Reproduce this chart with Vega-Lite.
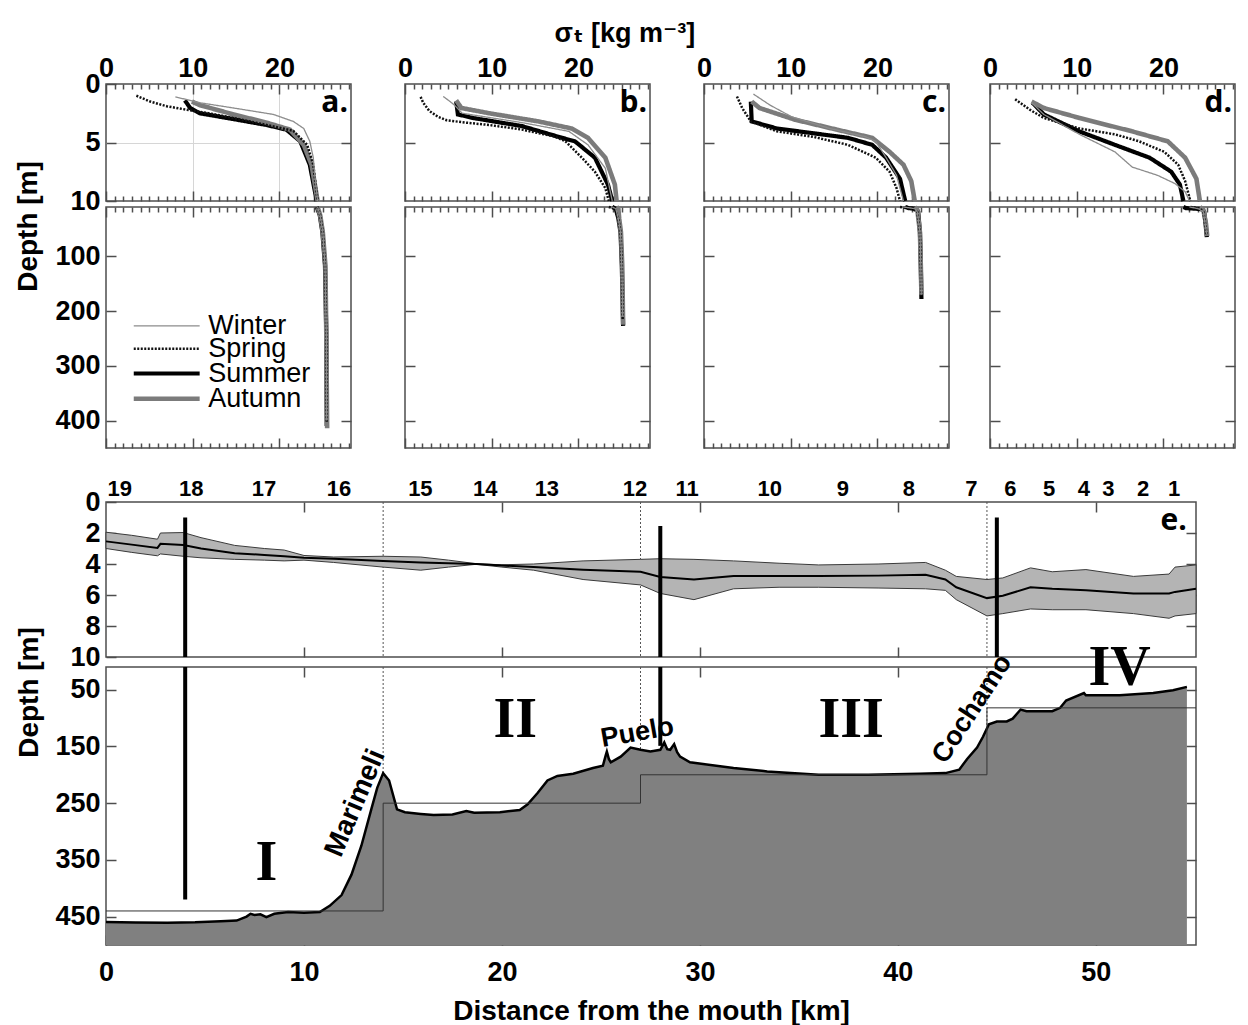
{
  "$schema": "https://vega.github.io/schema/vega-lite/v6.json",
  "padding": {"left": 13, "top": 20, "right": 5, "bottom": 0},
  "background": "white",
  "config": {
    "font": "Liberation Sans",
    "view": {"stroke": "#4d4d4d", "strokeWidth": 1.5},
    "axis": {"domain": false, "grid": false, "tickColor": "#4d4d4d", "tickWidth": 1.5, "labelFont": "Liberation Sans", "labelFontSize": 27, "labelFontWeight": "bold", "labelColor": "#000000", "titleFont": "Liberation Sans", "titleFontSize": 28, "titleFontWeight": "bold", "titleColor": "#000000", "labelFlush": false, "labelOverlap": false},
    "title": {"font": "Liberation Sans, DejaVu Sans", "fontSize": 27, "fontWeight": "bold", "color": "#000000"}
  },
  "datasets": {
    "prof": [
      {"st":"a","season":"Summer","depth":1.4,"sigma":9.1},{"st":"a","season":"Summer","depth":2.05,"sigma":9.7},{"st":"a","season":"Summer","depth":2.5,"sigma":10.8},{"st":"a","season":"Summer","depth":3.0,"sigma":14.7},{"st":"a","season":"Summer","depth":3.5,"sigma":18.5},{"st":"a","season":"Summer","depth":3.9,"sigma":20.8},{"st":"a","season":"Summer","depth":4.9,"sigma":22.4},{"st":"a","season":"Summer","depth":6.9,"sigma":23.5},{"st":"a","season":"Summer","depth":10,"sigma":24.3},{"st":"a","season":"Summer","depth":25,"sigma":24.65},{"st":"a","season":"Summer","depth":56,"sigma":24.95},{"st":"a","season":"Summer","depth":117,"sigma":25.25},{"st":"a","season":"Summer","depth":240,"sigma":25.4},{"st":"a","season":"Summer","depth":410,"sigma":25.45},
      {"st":"a","season":"Autumn","depth":1.5,"sigma":9.9},{"st":"a","season":"Autumn","depth":1.8,"sigma":10.8},{"st":"a","season":"Autumn","depth":2.6,"sigma":14.7},{"st":"a","season":"Autumn","depth":3.3,"sigma":18.5},{"st":"a","season":"Autumn","depth":3.9,"sigma":21.2},{"st":"a","season":"Autumn","depth":5.2,"sigma":22.8},{"st":"a","season":"Autumn","depth":6.9,"sigma":23.7},{"st":"a","season":"Autumn","depth":10,"sigma":24.4},{"st":"a","season":"Autumn","depth":25,"sigma":24.7},{"st":"a","season":"Autumn","depth":56,"sigma":25.0},{"st":"a","season":"Autumn","depth":117,"sigma":25.3},{"st":"a","season":"Autumn","depth":240,"sigma":25.4},{"st":"a","season":"Autumn","depth":414,"sigma":25.5},
      {"st":"a","season":"Spring","depth":1.0,"sigma":3.5},{"st":"a","season":"Spring","depth":1.5,"sigma":5.1},{"st":"a","season":"Spring","depth":1.9,"sigma":7.0},{"st":"a","season":"Spring","depth":2.2,"sigma":9.3},{"st":"a","season":"Spring","depth":2.45,"sigma":11.5},{"st":"a","season":"Spring","depth":2.9,"sigma":14.7},{"st":"a","season":"Spring","depth":3.5,"sigma":18.5},{"st":"a","season":"Spring","depth":4.0,"sigma":21.6},{"st":"a","season":"Spring","depth":5.2,"sigma":23.2},{"st":"a","season":"Spring","depth":6.9,"sigma":23.9},{"st":"a","season":"Spring","depth":10,"sigma":24.4},{"st":"a","season":"Spring","depth":25,"sigma":24.7},{"st":"a","season":"Spring","depth":56,"sigma":25.0},{"st":"a","season":"Spring","depth":117,"sigma":25.25},{"st":"a","season":"Spring","depth":240,"sigma":25.4},{"st":"a","season":"Spring","depth":405,"sigma":25.45},
      {"st":"a","season":"Winter","depth":1.1,"sigma":8.0},{"st":"a","season":"Winter","depth":1.6,"sigma":10.8},{"st":"a","season":"Winter","depth":2.05,"sigma":14.7},{"st":"a","season":"Winter","depth":2.6,"sigma":19.3},{"st":"a","season":"Winter","depth":3.2,"sigma":21.6},{"st":"a","season":"Winter","depth":3.8,"sigma":22.8},{"st":"a","season":"Winter","depth":4.9,"sigma":23.5},{"st":"a","season":"Winter","depth":6.3,"sigma":23.9},{"st":"a","season":"Winter","depth":8.0,"sigma":24.1},{"st":"a","season":"Winter","depth":10,"sigma":24.4},{"st":"a","season":"Winter","depth":25,"sigma":24.7},{"st":"a","season":"Winter","depth":56,"sigma":25.0},{"st":"a","season":"Winter","depth":117,"sigma":25.25},{"st":"a","season":"Winter","depth":240,"sigma":25.4},{"st":"a","season":"Winter","depth":400,"sigma":25.45},
      {"st":"b","season":"Summer","depth":1.5,"sigma":5.9},{"st":"b","season":"Summer","depth":2.6,"sigma":6.1},{"st":"b","season":"Summer","depth":2.9,"sigma":7.8},{"st":"b","season":"Summer","depth":3.6,"sigma":13.5},{"st":"b","season":"Summer","depth":4.6,"sigma":18.1},{"st":"b","season":"Summer","depth":4.9,"sigma":19.6},{"st":"b","season":"Summer","depth":6.3,"sigma":21.9},{"st":"b","season":"Summer","depth":8.6,"sigma":23.4},{"st":"b","season":"Summer","depth":10,"sigma":23.9},{"st":"b","season":"Summer","depth":13,"sigma":24.3},{"st":"b","season":"Summer","depth":31,"sigma":24.6},{"st":"b","season":"Summer","depth":56,"sigma":24.85},{"st":"b","season":"Summer","depth":117,"sigma":25.0},{"st":"b","season":"Summer","depth":227,"sigma":25.15},
      {"st":"b","season":"Autumn","depth":1.4,"sigma":5.9},{"st":"b","season":"Autumn","depth":2.05,"sigma":6.5},{"st":"b","season":"Autumn","depth":2.5,"sigma":9.7},{"st":"b","season":"Autumn","depth":3.2,"sigma":15.4},{"st":"b","season":"Autumn","depth":3.8,"sigma":19.2},{"st":"b","season":"Autumn","depth":4.6,"sigma":21.1},{"st":"b","season":"Autumn","depth":6.3,"sigma":23.1},{"st":"b","season":"Autumn","depth":8.6,"sigma":24.2},{"st":"b","season":"Autumn","depth":10,"sigma":24.4},{"st":"b","season":"Autumn","depth":13,"sigma":24.6},{"st":"b","season":"Autumn","depth":31,"sigma":24.7},{"st":"b","season":"Autumn","depth":56,"sigma":24.9},{"st":"b","season":"Autumn","depth":117,"sigma":25.05},{"st":"b","season":"Autumn","depth":225,"sigma":25.15},
      {"st":"b","season":"Spring","depth":1.1,"sigma":1.8},{"st":"b","season":"Spring","depth":1.6,"sigma":2.1},{"st":"b","season":"Spring","depth":2.3,"sigma":2.8},{"st":"b","season":"Spring","depth":2.8,"sigma":3.8},{"st":"b","season":"Spring","depth":3.1,"sigma":4.8},{"st":"b","season":"Spring","depth":3.3,"sigma":7.0},{"st":"b","season":"Spring","depth":3.5,"sigma":9.7},{"st":"b","season":"Spring","depth":3.9,"sigma":13.5},{"st":"b","season":"Spring","depth":4.5,"sigma":17.3},{"st":"b","season":"Spring","depth":4.9,"sigma":18.5},{"st":"b","season":"Spring","depth":6.3,"sigma":20.4},{"st":"b","season":"Spring","depth":7.5,"sigma":21.9},{"st":"b","season":"Spring","depth":8.9,"sigma":23.1},{"st":"b","season":"Spring","depth":10,"sigma":23.5},{"st":"b","season":"Spring","depth":13,"sigma":24.2},{"st":"b","season":"Spring","depth":31,"sigma":24.6},{"st":"b","season":"Spring","depth":56,"sigma":24.85},{"st":"b","season":"Spring","depth":117,"sigma":25.0},{"st":"b","season":"Spring","depth":215,"sigma":25.1},
      {"st":"b","season":"Winter","depth":1.06,"sigma":4.4},{"st":"b","season":"Winter","depth":1.5,"sigma":5.2},{"st":"b","season":"Winter","depth":1.8,"sigma":5.7},{"st":"b","season":"Winter","depth":2.5,"sigma":6.6},{"st":"b","season":"Winter","depth":3.3,"sigma":13.5},{"st":"b","season":"Winter","depth":4.05,"sigma":18.9},{"st":"b","season":"Winter","depth":5.2,"sigma":21.1},{"st":"b","season":"Winter","depth":7.2,"sigma":23.1},{"st":"b","season":"Winter","depth":10,"sigma":23.9},{"st":"b","season":"Winter","depth":13,"sigma":24.3},{"st":"b","season":"Winter","depth":31,"sigma":24.6},{"st":"b","season":"Winter","depth":56,"sigma":24.85},{"st":"b","season":"Winter","depth":117,"sigma":25.0},{"st":"b","season":"Winter","depth":210,"sigma":25.1},
      {"st":"c","season":"Summer","depth":1.5,"sigma":5.4},{"st":"c","season":"Summer","depth":3.2,"sigma":5.5},{"st":"c","season":"Summer","depth":3.8,"sigma":8.4},{"st":"c","season":"Summer","depth":4.2,"sigma":12.5},{"st":"c","season":"Summer","depth":4.6,"sigma":16.6},{"st":"c","season":"Summer","depth":5.2,"sigma":19.4},{"st":"c","season":"Summer","depth":6.3,"sigma":21.0},{"st":"c","season":"Summer","depth":8.1,"sigma":22.6},{"st":"c","season":"Summer","depth":10,"sigma":23.2},{"st":"c","season":"Summer","depth":12,"sigma":23.6},{"st":"c","season":"Summer","depth":13.5,"sigma":24.5},{"st":"c","season":"Summer","depth":19,"sigma":24.7},{"st":"c","season":"Summer","depth":56,"sigma":24.9},{"st":"c","season":"Summer","depth":117,"sigma":25.0},{"st":"c","season":"Summer","depth":178,"sigma":25.07},
      {"st":"c","season":"Autumn","depth":1.5,"sigma":5.5},{"st":"c","season":"Autumn","depth":2.05,"sigma":6.4},{"st":"c","season":"Autumn","depth":3.05,"sigma":10.5},{"st":"c","season":"Autumn","depth":3.9,"sigma":15.3},{"st":"c","season":"Autumn","depth":4.6,"sigma":19.4},{"st":"c","season":"Autumn","depth":5.8,"sigma":21.4},{"st":"c","season":"Autumn","depth":6.9,"sigma":23.0},{"st":"c","season":"Autumn","depth":8.3,"sigma":23.9},{"st":"c","season":"Autumn","depth":10,"sigma":24.3},{"st":"c","season":"Autumn","depth":15,"sigma":24.6},{"st":"c","season":"Autumn","depth":56,"sigma":24.9},{"st":"c","season":"Autumn","depth":117,"sigma":25.0},{"st":"c","season":"Autumn","depth":170,"sigma":25.07},
      {"st":"c","season":"Spring","depth":1.06,"sigma":3.8},{"st":"c","season":"Spring","depth":2.05,"sigma":4.4},{"st":"c","season":"Spring","depth":3.2,"sigma":5.4},{"st":"c","season":"Spring","depth":4.05,"sigma":8.4},{"st":"c","season":"Spring","depth":4.5,"sigma":12.5},{"st":"c","season":"Spring","depth":5.2,"sigma":16.6},{"st":"c","season":"Spring","depth":6.3,"sigma":19.8},{"st":"c","season":"Spring","depth":7.5,"sigma":21.4},{"st":"c","season":"Spring","depth":8.9,"sigma":22.2},{"st":"c","season":"Spring","depth":10,"sigma":22.6},{"st":"c","season":"Spring","depth":13,"sigma":24.0},{"st":"c","season":"Spring","depth":19,"sigma":24.6},{"st":"c","season":"Spring","depth":56,"sigma":24.9},{"st":"c","season":"Spring","depth":117,"sigma":25.0},{"st":"c","season":"Spring","depth":172,"sigma":25.05},
      {"st":"c","season":"Winter","depth":0.86,"sigma":5.7},{"st":"c","season":"Winter","depth":1.8,"sigma":7.6},{"st":"c","season":"Winter","depth":2.8,"sigma":10.1},{"st":"c","season":"Winter","depth":3.8,"sigma":14.5},{"st":"c","season":"Winter","depth":4.5,"sigma":18.6},{"st":"c","season":"Winter","depth":4.9,"sigma":19.8},{"st":"c","season":"Winter","depth":6.3,"sigma":21.0},{"st":"c","season":"Winter","depth":7.8,"sigma":22.2},{"st":"c","season":"Winter","depth":10,"sigma":23.0},{"st":"c","season":"Winter","depth":13,"sigma":24.3},{"st":"c","season":"Winter","depth":19,"sigma":24.6},{"st":"c","season":"Winter","depth":56,"sigma":24.9},{"st":"c","season":"Winter","depth":117,"sigma":25.0},{"st":"c","season":"Winter","depth":170,"sigma":25.05},
      {"st":"d","season":"Summer","depth":1.6,"sigma":4.9},{"st":"d","season":"Summer","depth":2.6,"sigma":6.2},{"st":"d","season":"Summer","depth":4.05,"sigma":10.3},{"st":"d","season":"Summer","depth":5.2,"sigma":14.4},{"st":"d","season":"Summer","depth":6.3,"sigma":18.4},{"st":"d","season":"Summer","depth":7.5,"sigma":20.9},{"st":"d","season":"Summer","depth":8.6,"sigma":21.9},{"st":"d","season":"Summer","depth":10,"sigma":22.3},{"st":"d","season":"Summer","depth":12,"sigma":22.6},{"st":"d","season":"Summer","depth":14,"sigma":24.5},{"st":"d","season":"Summer","depth":19,"sigma":24.7},{"st":"d","season":"Summer","depth":40,"sigma":24.85},{"st":"d","season":"Summer","depth":65,"sigma":25.0},
      {"st":"d","season":"Autumn","depth":1.5,"sigma":4.8},{"st":"d","season":"Autumn","depth":2.05,"sigma":6.2},{"st":"d","season":"Autumn","depth":2.9,"sigma":10.3},{"st":"d","season":"Autumn","depth":4.05,"sigma":16.4},{"st":"d","season":"Autumn","depth":4.9,"sigma":20.5},{"st":"d","season":"Autumn","depth":6.3,"sigma":22.5},{"st":"d","season":"Autumn","depth":8.1,"sigma":23.8},{"st":"d","season":"Autumn","depth":10,"sigma":24.2},{"st":"d","season":"Autumn","depth":15,"sigma":24.6},{"st":"d","season":"Autumn","depth":40,"sigma":24.9},{"st":"d","season":"Autumn","depth":63,"sigma":25.05},
      {"st":"d","season":"Spring","depth":1.3,"sigma":2.9},{"st":"d","season":"Spring","depth":2.2,"sigma":4.6},{"st":"d","season":"Spring","depth":2.9,"sigma":6.2},{"st":"d","season":"Spring","depth":3.8,"sigma":10.3},{"st":"d","season":"Spring","depth":4.3,"sigma":14.4},{"st":"d","season":"Spring","depth":4.9,"sigma":17.2},{"st":"d","season":"Spring","depth":5.8,"sigma":20.1},{"st":"d","season":"Spring","depth":6.9,"sigma":21.7},{"st":"d","season":"Spring","depth":8.3,"sigma":22.5},{"st":"d","season":"Spring","depth":10,"sigma":23.1},{"st":"d","season":"Spring","depth":13,"sigma":24.2},{"st":"d","season":"Spring","depth":19,"sigma":24.6},{"st":"d","season":"Spring","depth":40,"sigma":24.8},{"st":"d","season":"Spring","depth":62,"sigma":25.0},
      {"st":"d","season":"Winter","depth":1.6,"sigma":4.8},{"st":"d","season":"Winter","depth":2.6,"sigma":6.2},{"st":"d","season":"Winter","depth":4.3,"sigma":10.3},{"st":"d","season":"Winter","depth":5.8,"sigma":14.4},{"st":"d","season":"Winter","depth":7.1,"sigma":16.4},{"st":"d","season":"Winter","depth":7.8,"sigma":19.3},{"st":"d","season":"Winter","depth":8.5,"sigma":21.3},{"st":"d","season":"Winter","depth":9.2,"sigma":22.5},{"st":"d","season":"Winter","depth":10,"sigma":23.0},{"st":"d","season":"Winter","depth":13,"sigma":24.0},{"st":"d","season":"Winter","depth":19,"sigma":24.6},{"st":"d","season":"Winter","depth":40,"sigma":24.8},{"st":"d","season":"Winter","depth":60,"sigma":25.0}
    ],
    "panels": [{"st":"a","label":"a."},{"st":"b","label":"b."},{"st":"c","label":"c."},{"st":"d","label":"d."},{"st":"e","label":"e."}],
    "legendrows": [{"season":"Winter","depth":227},{"season":"Spring","depth":269},{"season":"Summer","depth":314},{"season":"Autumn","depth":360}],
    "band": [
      {"km":0,"top":1.95,"mid":2.54,"bot":3.0},{"km":1.3,"top":2.15,"mid":2.75,"bot":3.25},{"km":2.6,"top":2.4,"mid":2.96,"bot":3.47},{"km":2.75,"top":2.0,"mid":2.7,"bot":3.35},{"km":3.9,"top":1.97,"mid":2.77,"bot":3.5},{"km":4.8,"top":2.3,"mid":3.0,"bot":3.6},{"km":6.5,"top":2.8,"mid":3.3,"bot":3.7},{"km":8.0,"top":3.0,"mid":3.42,"bot":3.75},{"km":9.0,"top":3.1,"mid":3.5,"bot":3.8},{"km":10.0,"top":3.45,"mid":3.6,"bot":3.75},{"km":11.5,"top":3.55,"mid":3.66,"bot":3.9},{"km":14.0,"top":3.5,"mid":3.8,"bot":4.2},{"km":15.9,"top":3.55,"mid":3.9,"bot":4.4},{"km":17.3,"top":3.75,"mid":3.95,"bot":4.2},{"km":18.7,"top":3.98,"mid":4.0,"bot":4.02},{"km":20.0,"top":4.05,"mid":4.1,"bot":4.2},{"km":21.6,"top":4.0,"mid":4.2,"bot":4.4},{"km":24.1,"top":3.8,"mid":4.37,"bot":5.0},{"km":27.0,"top":3.7,"mid":4.5,"bot":5.35},{"km":28.0,"top":3.66,"mid":4.84,"bot":5.9},{"km":29.7,"top":3.7,"mid":5.0,"bot":6.3},{"km":31.7,"top":3.8,"mid":4.77,"bot":5.6},{"km":34.0,"top":3.95,"mid":4.77,"bot":5.5},{"km":36.0,"top":4.06,"mid":4.77,"bot":5.5},{"km":39.0,"top":4.0,"mid":4.75,"bot":5.55},{"km":41.4,"top":3.9,"mid":4.7,"bot":5.6},{"km":42.4,"top":4.4,"mid":5.0,"bot":5.7},{"km":42.95,"top":4.8,"mid":5.5,"bot":6.3},{"km":44.5,"top":5.0,"mid":6.2,"bot":7.35},{"km":45.3,"top":4.9,"mid":6.05,"bot":7.2},{"km":46.7,"top":4.25,"mid":5.5,"bot":6.9},{"km":47.8,"top":4.5,"mid":5.6,"bot":6.95},{"km":49.5,"top":4.36,"mid":5.7,"bot":6.95},{"km":51.9,"top":4.8,"mid":5.9,"bot":7.2},{"km":53.7,"top":4.65,"mid":5.9,"bot":7.5},{"km":54.0,"top":4.2,"mid":5.8,"bot":7.35},{"km":55.06,"top":4.06,"mid":5.6,"bot":7.2}
    ],
    "bathy": [
      {"km":0,"depth":459.6},{"km":1.5,"depth":460.5},{"km":3.1,"depth":461},{"km":4.5,"depth":460},{"km":5.8,"depth":458},{"km":6.6,"depth":457},{"km":7.1,"depth":450},{"km":7.3,"depth":445},{"km":7.5,"depth":447},{"km":7.8,"depth":446},{"km":8.1,"depth":451},{"km":8.5,"depth":445},{"km":9.2,"depth":442},{"km":10.0,"depth":443},{"km":10.8,"depth":442},{"km":11.3,"depth":431},{"km":11.9,"depth":412},{"km":12.4,"depth":376},{"km":12.9,"depth":325},{"km":13.4,"depth":261},{"km":13.7,"depth":223},{"km":14.0,"depth":197},{"km":14.3,"depth":210},{"km":14.7,"depth":261},{"km":15.1,"depth":266},{"km":15.9,"depth":269},{"km":16.55,"depth":271},{"km":17.5,"depth":270},{"km":18.2,"depth":264},{"km":18.6,"depth":267},{"km":19.9,"depth":266},{"km":20.9,"depth":262},{"km":21.3,"depth":252},{"km":21.8,"depth":232},{"km":22.3,"depth":210},{"km":22.8,"depth":202},{"km":23.6,"depth":198},{"km":24.6,"depth":188},{"km":25.1,"depth":184},{"km":25.25,"depth":165},{"km":25.3,"depth":159},{"km":25.4,"depth":172},{"km":25.5,"depth":178},{"km":26.0,"depth":168},{"km":26.5,"depth":152},{"km":27.0,"depth":156},{"km":27.5,"depth":159},{"km":28.0,"depth":156},{"km":28.2,"depth":143},{"km":28.35,"depth":155},{"km":28.5,"depth":156},{"km":28.7,"depth":146},{"km":28.85,"depth":160},{"km":29.0,"depth":168},{"km":29.5,"depth":178},{"km":31.7,"depth":188},{"km":33.4,"depth":194},{"km":36.0,"depth":200},{"km":38.5,"depth":200},{"km":41.1,"depth":198},{"km":42.4,"depth":197},{"km":43.1,"depth":191},{"km":43.5,"depth":172},{"km":44.0,"depth":152},{"km":44.3,"depth":133},{"km":44.6,"depth":111},{"km":45.0,"depth":106},{"km":45.5,"depth":106},{"km":45.8,"depth":101},{"km":46.2,"depth":85},{"km":46.5,"depth":88},{"km":47.8,"depth":88},{"km":48.2,"depth":82},{"km":48.5,"depth":69},{"km":49.4,"depth":56},{"km":49.5,"depth":60},{"km":51.2,"depth":60},{"km":52.9,"depth":56},{"km":53.9,"depth":51},{"km":54.6,"depth":45}
    ],
    "steps": [
      {"ord":1,"km":0,"depth":440},{"ord":2,"km":14,"depth":440},{"ord":3,"km":14,"depth":250},{"ord":4,"km":27,"depth":250},{"ord":5,"km":27,"depth":200},{"ord":6,"km":44.5,"depth":200},{"ord":7,"km":44.5,"depth":82},{"ord":8,"km":55.06,"depth":82}
    ],
    "casts": [{"km":4.0,"top":1.0,"bottom":420},{"km":28.0,"top":1.55,"bottom":149},{"km":45.0,"top":1.0,"bottom":14}],
    "dividers": [{"km":14},{"km":27},{"km":44.5}],
    "stations": [
      {"st":"19","km":0.69},{"st":"18","km":4.3},{"st":"17","km":7.98},{"st":"16","km":11.77},{"st":"15","km":15.88},{"st":"14","km":19.16},{"st":"13","km":22.27},{"st":"12","km":26.72},{"st":"11","km":29.36},{"st":"10","km":33.53},{"st":"9","km":37.22},{"st":"8","km":40.55},{"st":"7","km":43.71},{"st":"6","km":45.68},{"st":"5","km":47.64},{"st":"4","km":49.4},{"st":"3","km":50.63},{"st":"2","km":52.39},{"st":"1","km":53.96}
    ],
    "regions": [{"label":"I","km":8.1,"depth":355},{"label":"II","km":20.67,"depth":104},{"label":"III","km":37.64,"depth":104},{"label":"IV","km":51.2,"depth":12}],
    "places": [{"name":"Marimeli","km":12.61,"depth":250},{"name":"Puelo","km":26.84,"depth":126},{"name":"Cochamo","km":43.76,"depth":84}]
  },
  "vconcat": [
    {
      "title": {"text": "σₜ [kg m⁻³]", "anchor": "middle", "offset": 0},
      "hconcat": [
        {
          "hconcat": [
            {
              "vconcat": [
                {
                  "width": 245, "height": 117,
                  "layer": [
                    {
                      "data": {"name": "prof"},
                      "transform": [{"filter": "datum.st === 'a' && datum.depth <= 10"}],
                      "mark": {"type": "line"},
                      "encoding": {
                        "x": {"field": "sigma", "type": "quantitative", "scale": {"domain": [0, 28.25]}, "axis": {"orient": "top", "values": [0,1,2,3,4,5,6,7,8,9,10,11,12,13,14,15,16,17,18,19,20,21,22,23,24,25,26,27,28], "labelExpr": "datum.value % 10 === 0 ? datum.label : ''", "labelPadding": 12, "tickSize": {"condition": {"test": "datum.value % 10 === 0", "value": -10}, "value": -5}, "title": null, "grid": true, "gridColor": "#d6d6d6", "gridOpacity": {"condition": {"test": "datum.value === 10 || datum.value === 20", "value": 1}, "value": 0}}},
                        "y": {"field": "depth", "type": "quantitative", "scale": {"domain": [0, 10], "reverse": true}, "axis": {"orient": "left", "values": [0, 5, 10], "tickSize": -10, "labelPadding": 16, "title": "Depth [m]", "titleX": -64, "titleY": 142, "grid": true, "gridColor": "#d6d6d6", "gridOpacity": {"condition": {"test": "datum.value === 5", "value": 1}, "value": 0}}},
                        "order": {"field": "depth", "type": "quantitative"},
                        "color": {"field": "season", "type": "nominal", "scale": {"domain": ["Winter","Spring","Summer","Autumn"], "range": ["#8c8c8c","#111111","#000000","#7b7b7b"]}, "legend": null},
                        "strokeWidth": {"field": "season", "type": "nominal", "scale": {"type": "ordinal", "domain": ["Winter","Spring","Summer","Autumn"], "range": [1.3, 2.5, 4.2, 4.6]}, "legend": null},
                        "strokeDash": {"field": "season", "type": "nominal", "scale": {"domain": ["Winter","Spring","Summer","Autumn"], "range": [[1,0],[2,1.5],[1,0],[1,0]]}, "legend": null}
                      }
                    },
                    {
                      "data": {"name": "panels"},
                      "transform": [{"filter": "datum.st === 'a'"}],
                      "mark": {"type": "text", "align": "right", "baseline": "middle", "font": "Open Sans", "fontWeight": "bold", "fontSize": 30},
                      "encoding": {
                        "text": {"field": "label", "type": "nominal"},
                        "x": {"datum": 27.9, "type": "quantitative", "scale": {"domain": [0, 28.25]}, "axis": {"orient": "bottom", "values": [0,1,2,3,4,5,6,7,8,9,10,11,12,13,14,15,16,17,18,19,20,21,22,23,24,25,26,27,28], "labels": false, "tickSize": {"condition": {"test": "datum.value % 10 === 0", "value": -10}, "value": -5}, "title": null}},
                        "y": {"datum": 1.65, "type": "quantitative", "scale": {"domain": [0, 10], "reverse": true}, "axis": {"orient": "right", "values": [5], "tickSize": -10, "labels": false, "title": null}}
                      }
                    }
                  ],
                  "resolve": {"axis": {"x": "independent", "y": "independent"}}
                },
                {
                  "width": 245, "height": 241,
                  "layer": [
                    {
                      "data": {"name": "prof"},
                      "transform": [{"filter": "datum.st === 'a' && datum.depth >= 10"}],
                      "mark": {"type": "line"},
                      "encoding": {
                        "x": {"field": "sigma", "type": "quantitative", "scale": {"domain": [0, 28.25]}, "axis": {"orient": "top", "values": [0,1,2,3,4,5,6,7,8,9,10,11,12,13,14,15,16,17,18,19,20,21,22,23,24,25,26,27,28], "labels": false, "tickSize": {"condition": {"test": "datum.value % 10 === 0", "value": -10}, "value": -5}, "title": null}},
                        "y": {"field": "depth", "type": "quantitative", "scale": {"domain": [10, 450], "reverse": true}, "axis": {"orient": "left", "values": [100, 200, 300, 400], "tickSize": -10, "labelPadding": 16, "title": null}},
                        "order": {"field": "depth", "type": "quantitative"},
                        "color": {"field": "season", "type": "nominal", "scale": {"domain": ["Winter","Spring","Summer","Autumn"], "range": ["#8c8c8c","#111111","#000000","#7b7b7b"]}, "legend": null},
                        "strokeWidth": {"field": "season", "type": "nominal", "scale": {"type": "ordinal", "domain": ["Winter","Spring","Summer","Autumn"], "range": [1.3, 2.5, 4.2, 4.6]}, "legend": null},
                        "strokeDash": {"field": "season", "type": "nominal", "scale": {"domain": ["Winter","Spring","Summer","Autumn"], "range": [[1,0],[2,1.5],[1,0],[1,0]]}, "legend": null}
                      }
                    },
                    {
                      "data": {"name": "legendrows"},
                      "mark": {"type": "rule"},
                      "encoding": {
                        "x": {"datum": 3.2, "type": "quantitative", "scale": {"domain": [0, 28.25]}, "axis": {"orient": "bottom", "values": [0,1,2,3,4,5,6,7,8,9,10,11,12,13,14,15,16,17,18,19,20,21,22,23,24,25,26,27,28], "labels": false, "tickSize": {"condition": {"test": "datum.value % 10 === 0", "value": -10}, "value": -5}, "title": null}},
                        "x2": {"datum": 10.8},
                        "y": {"field": "depth", "type": "quantitative", "scale": {"domain": [10, 450], "reverse": true}, "axis": {"orient": "right", "values": [100, 200, 300, 400], "tickSize": -10, "labels": false, "title": null}},
                        "color": {"field": "season", "type": "nominal", "scale": {"domain": ["Winter","Spring","Summer","Autumn"], "range": ["#8c8c8c","#111111","#000000","#7b7b7b"]}, "legend": null},
                        "strokeWidth": {"field": "season", "type": "nominal", "scale": {"type": "ordinal", "domain": ["Winter","Spring","Summer","Autumn"], "range": [1.3, 2.5, 4.2, 4.6]}, "legend": null},
                        "strokeDash": {"field": "season", "type": "nominal", "scale": {"domain": ["Winter","Spring","Summer","Autumn"], "range": [[1,0],[2,1.5],[1,0],[1,0]]}, "legend": null}
                      }
                    },
                    {
                      "data": {"name": "legendrows"},
                      "mark": {"type": "text", "align": "left", "baseline": "middle", "fontSize": 27, "font": "Liberation Sans", "color": "#000000"},
                      "encoding": {
                        "text": {"field": "season", "type": "nominal"},
                        "x": {"datum": 11.8, "type": "quantitative", "scale": {"domain": [0, 28.25]}, "axis": null},
                        "y": {"field": "depth", "type": "quantitative", "scale": {"domain": [10, 450], "reverse": true}, "axis": null}
                      }
                    }
                  ],
                  "resolve": {"axis": {"x": "independent", "y": "independent"}}
                }
              ],
              "spacing": 6, "bounds": "flush"
            },
            {
              "vconcat": [
                {
                  "width": 245, "height": 117,
                  "layer": [
                    {
                      "data": {"name": "prof"},
                      "transform": [{"filter": "datum.st === 'b' && datum.depth <= 10"}],
                      "mark": {"type": "line"},
                      "encoding": {
                        "x": {"field": "sigma", "type": "quantitative", "scale": {"domain": [0, 28.25]}, "axis": {"orient": "top", "values": [0,1,2,3,4,5,6,7,8,9,10,11,12,13,14,15,16,17,18,19,20,21,22,23,24,25,26,27,28], "labelExpr": "datum.value % 10 === 0 ? datum.label : ''", "labelPadding": 12, "tickSize": {"condition": {"test": "datum.value % 10 === 0", "value": -10}, "value": -5}, "title": null}},
                        "y": {"field": "depth", "type": "quantitative", "scale": {"domain": [0, 10], "reverse": true}, "axis": {"orient": "left", "values": [5], "tickSize": -10, "labels": false, "title": null}},
                        "order": {"field": "depth", "type": "quantitative"},
                        "color": {"field": "season", "type": "nominal", "scale": {"domain": ["Winter","Spring","Summer","Autumn"], "range": ["#8c8c8c","#111111","#000000","#7b7b7b"]}, "legend": null},
                        "strokeWidth": {"field": "season", "type": "nominal", "scale": {"type": "ordinal", "domain": ["Winter","Spring","Summer","Autumn"], "range": [1.3, 2.5, 4.2, 4.6]}, "legend": null},
                        "strokeDash": {"field": "season", "type": "nominal", "scale": {"domain": ["Winter","Spring","Summer","Autumn"], "range": [[1,0],[2,1.5],[1,0],[1,0]]}, "legend": null}
                      }
                    },
                    {
                      "data": {"name": "panels"},
                      "transform": [{"filter": "datum.st === 'b'"}],
                      "mark": {"type": "text", "align": "right", "baseline": "middle", "font": "Open Sans", "fontWeight": "bold", "fontSize": 30},
                      "encoding": {
                        "text": {"field": "label", "type": "nominal"},
                        "x": {"datum": 27.9, "type": "quantitative", "scale": {"domain": [0, 28.25]}, "axis": {"orient": "bottom", "values": [0,1,2,3,4,5,6,7,8,9,10,11,12,13,14,15,16,17,18,19,20,21,22,23,24,25,26,27,28], "labels": false, "tickSize": {"condition": {"test": "datum.value % 10 === 0", "value": -10}, "value": -5}, "title": null}},
                        "y": {"datum": 1.65, "type": "quantitative", "scale": {"domain": [0, 10], "reverse": true}, "axis": {"orient": "right", "values": [5], "tickSize": -10, "labels": false, "title": null}}
                      }
                    }
                  ],
                  "resolve": {"axis": {"x": "independent", "y": "independent"}}
                },
                {
                  "width": 245, "height": 241,
                  "layer": [
                    {
                      "data": {"name": "prof"},
                      "transform": [{"filter": "datum.st === 'b' && datum.depth >= 10"}],
                      "mark": {"type": "line"},
                      "encoding": {
                        "x": {"field": "sigma", "type": "quantitative", "scale": {"domain": [0, 28.25]}, "axis": {"orient": "top", "values": [0,1,2,3,4,5,6,7,8,9,10,11,12,13,14,15,16,17,18,19,20,21,22,23,24,25,26,27,28], "labels": false, "tickSize": {"condition": {"test": "datum.value % 10 === 0", "value": -10}, "value": -5}, "title": null}},
                        "y": {"field": "depth", "type": "quantitative", "scale": {"domain": [10, 450], "reverse": true}, "axis": {"orient": "left", "values": [100, 200, 300, 400], "tickSize": -10, "labels": false, "title": null}},
                        "order": {"field": "depth", "type": "quantitative"},
                        "color": {"field": "season", "type": "nominal", "scale": {"domain": ["Winter","Spring","Summer","Autumn"], "range": ["#8c8c8c","#111111","#000000","#7b7b7b"]}, "legend": null},
                        "strokeWidth": {"field": "season", "type": "nominal", "scale": {"type": "ordinal", "domain": ["Winter","Spring","Summer","Autumn"], "range": [1.3, 2.5, 4.2, 4.6]}, "legend": null},
                        "strokeDash": {"field": "season", "type": "nominal", "scale": {"domain": ["Winter","Spring","Summer","Autumn"], "range": [[1,0],[2,1.5],[1,0],[1,0]]}, "legend": null}
                      }
                    },
                    {
                      "data": {"name": "prof"},
                      "transform": [{"filter": "datum.st === 'b' && datum.depth >= 10"}],
                      "mark": {"type": "point", "opacity": 0},
                      "encoding": {
                        "x": {"field": "sigma", "type": "quantitative", "scale": {"domain": [0, 28.25]}, "axis": {"orient": "bottom", "values": [0,1,2,3,4,5,6,7,8,9,10,11,12,13,14,15,16,17,18,19,20,21,22,23,24,25,26,27,28], "labels": false, "tickSize": {"condition": {"test": "datum.value % 10 === 0", "value": -10}, "value": -5}, "title": null}},
                        "y": {"field": "depth", "type": "quantitative", "scale": {"domain": [10, 450], "reverse": true}, "axis": {"orient": "right", "values": [100, 200, 300, 400], "tickSize": -10, "labels": false, "title": null}}
                      }
                    }
                  ],
                  "resolve": {"axis": {"x": "independent", "y": "independent"}}
                }
              ],
              "spacing": 6, "bounds": "flush"
            },
            {
              "vconcat": [
                {
                  "width": 245, "height": 117,
                  "layer": [
                    {
                      "data": {"name": "prof"},
                      "transform": [{"filter": "datum.st === 'c' && datum.depth <= 10"}],
                      "mark": {"type": "line"},
                      "encoding": {
                        "x": {"field": "sigma", "type": "quantitative", "scale": {"domain": [0, 28.25]}, "axis": {"orient": "top", "values": [0,1,2,3,4,5,6,7,8,9,10,11,12,13,14,15,16,17,18,19,20,21,22,23,24,25,26,27,28], "labelExpr": "datum.value % 10 === 0 ? datum.label : ''", "labelPadding": 12, "tickSize": {"condition": {"test": "datum.value % 10 === 0", "value": -10}, "value": -5}, "title": null}},
                        "y": {"field": "depth", "type": "quantitative", "scale": {"domain": [0, 10], "reverse": true}, "axis": {"orient": "left", "values": [5], "tickSize": -10, "labels": false, "title": null}},
                        "order": {"field": "depth", "type": "quantitative"},
                        "color": {"field": "season", "type": "nominal", "scale": {"domain": ["Winter","Spring","Summer","Autumn"], "range": ["#8c8c8c","#111111","#000000","#7b7b7b"]}, "legend": null},
                        "strokeWidth": {"field": "season", "type": "nominal", "scale": {"type": "ordinal", "domain": ["Winter","Spring","Summer","Autumn"], "range": [1.3, 2.5, 4.2, 4.6]}, "legend": null},
                        "strokeDash": {"field": "season", "type": "nominal", "scale": {"domain": ["Winter","Spring","Summer","Autumn"], "range": [[1,0],[2,1.5],[1,0],[1,0]]}, "legend": null}
                      }
                    },
                    {
                      "data": {"name": "panels"},
                      "transform": [{"filter": "datum.st === 'c'"}],
                      "mark": {"type": "text", "align": "right", "baseline": "middle", "font": "Open Sans", "fontWeight": "bold", "fontSize": 30},
                      "encoding": {
                        "text": {"field": "label", "type": "nominal"},
                        "x": {"datum": 27.9, "type": "quantitative", "scale": {"domain": [0, 28.25]}, "axis": {"orient": "bottom", "values": [0,1,2,3,4,5,6,7,8,9,10,11,12,13,14,15,16,17,18,19,20,21,22,23,24,25,26,27,28], "labels": false, "tickSize": {"condition": {"test": "datum.value % 10 === 0", "value": -10}, "value": -5}, "title": null}},
                        "y": {"datum": 1.65, "type": "quantitative", "scale": {"domain": [0, 10], "reverse": true}, "axis": {"orient": "right", "values": [5], "tickSize": -10, "labels": false, "title": null}}
                      }
                    }
                  ],
                  "resolve": {"axis": {"x": "independent", "y": "independent"}}
                },
                {
                  "width": 245, "height": 241,
                  "layer": [
                    {
                      "data": {"name": "prof"},
                      "transform": [{"filter": "datum.st === 'c' && datum.depth >= 10"}],
                      "mark": {"type": "line"},
                      "encoding": {
                        "x": {"field": "sigma", "type": "quantitative", "scale": {"domain": [0, 28.25]}, "axis": {"orient": "top", "values": [0,1,2,3,4,5,6,7,8,9,10,11,12,13,14,15,16,17,18,19,20,21,22,23,24,25,26,27,28], "labels": false, "tickSize": {"condition": {"test": "datum.value % 10 === 0", "value": -10}, "value": -5}, "title": null}},
                        "y": {"field": "depth", "type": "quantitative", "scale": {"domain": [10, 450], "reverse": true}, "axis": {"orient": "left", "values": [100, 200, 300, 400], "tickSize": -10, "labels": false, "title": null}},
                        "order": {"field": "depth", "type": "quantitative"},
                        "color": {"field": "season", "type": "nominal", "scale": {"domain": ["Winter","Spring","Summer","Autumn"], "range": ["#8c8c8c","#111111","#000000","#7b7b7b"]}, "legend": null},
                        "strokeWidth": {"field": "season", "type": "nominal", "scale": {"type": "ordinal", "domain": ["Winter","Spring","Summer","Autumn"], "range": [1.3, 2.5, 4.2, 4.6]}, "legend": null},
                        "strokeDash": {"field": "season", "type": "nominal", "scale": {"domain": ["Winter","Spring","Summer","Autumn"], "range": [[1,0],[2,1.5],[1,0],[1,0]]}, "legend": null}
                      }
                    },
                    {
                      "data": {"name": "prof"},
                      "transform": [{"filter": "datum.st === 'c' && datum.depth >= 10"}],
                      "mark": {"type": "point", "opacity": 0},
                      "encoding": {
                        "x": {"field": "sigma", "type": "quantitative", "scale": {"domain": [0, 28.25]}, "axis": {"orient": "bottom", "values": [0,1,2,3,4,5,6,7,8,9,10,11,12,13,14,15,16,17,18,19,20,21,22,23,24,25,26,27,28], "labels": false, "tickSize": {"condition": {"test": "datum.value % 10 === 0", "value": -10}, "value": -5}, "title": null}},
                        "y": {"field": "depth", "type": "quantitative", "scale": {"domain": [10, 450], "reverse": true}, "axis": {"orient": "right", "values": [100, 200, 300, 400], "tickSize": -10, "labels": false, "title": null}}
                      }
                    }
                  ],
                  "resolve": {"axis": {"x": "independent", "y": "independent"}}
                }
              ],
              "spacing": 6, "bounds": "flush"
            }
          ],
          "spacing": 43
        },
        {
          "vconcat": [
            {
              "width": 245, "height": 117,
              "layer": [
                {
                  "data": {"name": "prof"},
                  "transform": [{"filter": "datum.st === 'd' && datum.depth <= 10"}],
                  "mark": {"type": "line"},
                  "encoding": {
                    "x": {"field": "sigma", "type": "quantitative", "scale": {"domain": [0, 28.25]}, "axis": {"orient": "top", "values": [0,1,2,3,4,5,6,7,8,9,10,11,12,13,14,15,16,17,18,19,20,21,22,23,24,25,26,27,28], "labelExpr": "datum.value % 10 === 0 ? datum.label : ''", "labelPadding": 12, "tickSize": {"condition": {"test": "datum.value % 10 === 0", "value": -10}, "value": -5}, "title": null}},
                    "y": {"field": "depth", "type": "quantitative", "scale": {"domain": [0, 10], "reverse": true}, "axis": {"orient": "left", "values": [5], "tickSize": -10, "labels": false, "title": null}},
                    "order": {"field": "depth", "type": "quantitative"},
                    "color": {"field": "season", "type": "nominal", "scale": {"domain": ["Winter","Spring","Summer","Autumn"], "range": ["#8c8c8c","#111111","#000000","#7b7b7b"]}, "legend": null},
                    "strokeWidth": {"field": "season", "type": "nominal", "scale": {"type": "ordinal", "domain": ["Winter","Spring","Summer","Autumn"], "range": [1.3, 2.5, 4.2, 4.6]}, "legend": null},
                    "strokeDash": {"field": "season", "type": "nominal", "scale": {"domain": ["Winter","Spring","Summer","Autumn"], "range": [[1,0],[2,1.5],[1,0],[1,0]]}, "legend": null}
                  }
                },
                {
                  "data": {"name": "panels"},
                  "transform": [{"filter": "datum.st === 'd'"}],
                  "mark": {"type": "text", "align": "right", "baseline": "middle", "font": "Open Sans", "fontWeight": "bold", "fontSize": 30},
                  "encoding": {
                    "text": {"field": "label", "type": "nominal"},
                    "x": {"datum": 27.9, "type": "quantitative", "scale": {"domain": [0, 28.25]}, "axis": {"orient": "bottom", "values": [0,1,2,3,4,5,6,7,8,9,10,11,12,13,14,15,16,17,18,19,20,21,22,23,24,25,26,27,28], "labels": false, "tickSize": {"condition": {"test": "datum.value % 10 === 0", "value": -10}, "value": -5}, "title": null}},
                    "y": {"datum": 1.65, "type": "quantitative", "scale": {"domain": [0, 10], "reverse": true}, "axis": {"orient": "right", "values": [5], "tickSize": -10, "labels": false, "title": null}}
                  }
                }
              ],
              "resolve": {"axis": {"x": "independent", "y": "independent"}}
            },
            {
              "width": 245, "height": 241,
              "layer": [
                {
                  "data": {"name": "prof"},
                  "transform": [{"filter": "datum.st === 'd' && datum.depth >= 10"}],
                  "mark": {"type": "line"},
                  "encoding": {
                    "x": {"field": "sigma", "type": "quantitative", "scale": {"domain": [0, 28.25]}, "axis": {"orient": "top", "values": [0,1,2,3,4,5,6,7,8,9,10,11,12,13,14,15,16,17,18,19,20,21,22,23,24,25,26,27,28], "labels": false, "tickSize": {"condition": {"test": "datum.value % 10 === 0", "value": -10}, "value": -5}, "title": null}},
                    "y": {"field": "depth", "type": "quantitative", "scale": {"domain": [10, 450], "reverse": true}, "axis": {"orient": "left", "values": [100, 200, 300, 400], "tickSize": -10, "labels": false, "title": null}},
                    "order": {"field": "depth", "type": "quantitative"},
                    "color": {"field": "season", "type": "nominal", "scale": {"domain": ["Winter","Spring","Summer","Autumn"], "range": ["#8c8c8c","#111111","#000000","#7b7b7b"]}, "legend": null},
                    "strokeWidth": {"field": "season", "type": "nominal", "scale": {"type": "ordinal", "domain": ["Winter","Spring","Summer","Autumn"], "range": [1.3, 2.5, 4.2, 4.6]}, "legend": null},
                    "strokeDash": {"field": "season", "type": "nominal", "scale": {"domain": ["Winter","Spring","Summer","Autumn"], "range": [[1,0],[2,1.5],[1,0],[1,0]]}, "legend": null}
                  }
                },
                {
                  "data": {"name": "prof"},
                  "transform": [{"filter": "datum.st === 'd' && datum.depth >= 10"}],
                  "mark": {"type": "point", "opacity": 0},
                  "encoding": {
                    "x": {"field": "sigma", "type": "quantitative", "scale": {"domain": [0, 28.25]}, "axis": {"orient": "bottom", "values": [0,1,2,3,4,5,6,7,8,9,10,11,12,13,14,15,16,17,18,19,20,21,22,23,24,25,26,27,28], "labels": false, "tickSize": {"condition": {"test": "datum.value % 10 === 0", "value": -10}, "value": -5}, "title": null}},
                    "y": {"field": "depth", "type": "quantitative", "scale": {"domain": [10, 450], "reverse": true}, "axis": {"orient": "right", "values": [100, 200, 300, 400], "tickSize": -10, "labels": false, "title": null}}
                  }
                }
              ],
              "resolve": {"axis": {"x": "independent", "y": "independent"}}
            }
          ],
          "spacing": 6, "bounds": "flush"
        }
      ],
      "spacing": 30
    },
    {
      "vconcat": [
        {
          "width": 1090, "height": 155,
          "layer": [
            {
              "data": {"name": "dividers"},
              "mark": {"type": "rule", "color": "#555555", "strokeWidth": 1, "strokeDash": [2, 2]},
              "encoding": {
                "x": {"field": "km", "type": "quantitative", "scale": {"domain": [0, 55.06]}, "axis": null},
                "y": {"datum": 0, "type": "quantitative", "scale": {"domain": [0, 10], "reverse": true}, "axis": null},
                "y2": {"datum": 10}
              }
            },
            {
              "data": {"name": "band"},
              "mark": {"type": "area", "fill": "#b4b4b4", "stroke": "#3a3a3a", "strokeWidth": 1},
              "encoding": {
                "x": {"field": "km", "type": "quantitative", "scale": {"domain": [0, 55.06]}, "axis": {"orient": "top", "values": [10, 20, 30, 40, 50], "tickSize": -10, "labels": false, "title": null}},
                "y": {"field": "top", "type": "quantitative", "scale": {"domain": [0, 10], "reverse": true}, "axis": {"orient": "left", "values": [0, 2, 4, 6, 8, 10], "tickSize": -10, "labelPadding": 16, "title": "Depth [m]", "titleX": -63, "titleY": 190}},
                "y2": {"field": "bot"}
              }
            },
            {
              "data": {"name": "band"},
              "mark": {"type": "line", "color": "#000000", "strokeWidth": 2},
              "encoding": {
                "x": {"field": "km", "type": "quantitative", "scale": {"domain": [0, 55.06]}, "axis": null},
                "y": {"field": "mid", "type": "quantitative", "scale": {"domain": [0, 10], "reverse": true}, "axis": null}
              }
            },
            {
              "data": {"name": "casts"},
              "mark": {"type": "rule", "color": "#000000", "strokeWidth": 4},
              "encoding": {
                "x": {"field": "km", "type": "quantitative", "scale": {"domain": [0, 55.06]}, "axis": null},
                "y": {"field": "top", "type": "quantitative", "scale": {"domain": [0, 10], "reverse": true}, "axis": null},
                "y2": {"datum": 10}
              }
            },
            {
              "data": {"name": "stations"},
              "mark": {"type": "text", "baseline": "middle", "align": "center", "fontSize": 22, "fontWeight": "bold", "dy": -13, "color": "#000000"},
              "encoding": {
                "text": {"field": "st", "type": "nominal"},
                "x": {"field": "km", "type": "quantitative", "scale": {"domain": [0, 55.06]}, "axis": null},
                "y": {"datum": 0, "type": "quantitative", "scale": {"domain": [0, 10], "reverse": true}, "axis": null}
              }
            },
            {
              "data": {"name": "panels"},
              "transform": [{"filter": "datum.st === 'e'"}],
              "mark": {"type": "text", "align": "right", "baseline": "middle", "font": "Open Sans", "fontWeight": "bold", "fontSize": 30, "color": "#000000"},
              "encoding": {
                "text": {"field": "label", "type": "nominal"},
                "x": {"datum": 54.6, "type": "quantitative", "scale": {"domain": [0, 55.06]}, "axis": {"orient": "bottom", "values": [10, 20, 30, 40, 50], "tickSize": -10, "labels": false, "title": null}},
                "y": {"datum": 1.2, "type": "quantitative", "scale": {"domain": [0, 10], "reverse": true}, "axis": {"orient": "right", "values": [2, 4, 6, 8], "tickSize": -10, "labels": false, "title": null}}
              }
            }
          ],
          "resolve": {"axis": {"x": "independent", "y": "independent"}}
        },
        {
          "width": 1090, "height": 278,
          "layer": [
            {
              "data": {"name": "dividers"},
              "mark": {"type": "rule", "color": "#555555", "strokeWidth": 1, "strokeDash": [2, 2]},
              "encoding": {
                "x": {"field": "km", "type": "quantitative", "scale": {"domain": [0, 55.06]}, "axis": null},
                "y": {"datum": 10, "type": "quantitative", "scale": {"domain": [10, 500], "reverse": true}, "axis": null},
                "y2": {"datum": 500}
              }
            },
            {
              "data": {"name": "bathy"},
              "mark": {"type": "area", "color": "#808080"},
              "encoding": {
                "x": {"field": "km", "type": "quantitative", "scale": {"domain": [0, 55.06]}, "axis": {"orient": "top", "values": [10, 20, 30, 40, 50], "tickSize": -10, "labels": false, "title": null}},
                "y": {"field": "depth", "type": "quantitative", "scale": {"domain": [10, 500], "reverse": true}, "axis": {"orient": "left", "values": [50, 150, 250, 350, 450], "tickSize": -10, "labelPadding": 16, "title": null}},
                "y2": {"datum": 500}
              }
            },
            {
              "data": {"name": "bathy"},
              "mark": {"type": "line", "color": "#000000", "strokeWidth": 2.5},
              "encoding": {
                "x": {"field": "km", "type": "quantitative", "scale": {"domain": [0, 55.06]}, "axis": null},
                "y": {"field": "depth", "type": "quantitative", "scale": {"domain": [10, 500], "reverse": true}, "axis": null}
              }
            },
            {
              "data": {"name": "steps"},
              "mark": {"type": "line", "color": "#333333", "strokeWidth": 1},
              "encoding": {
                "x": {"field": "km", "type": "quantitative", "scale": {"domain": [0, 55.06]}, "axis": null},
                "y": {"field": "depth", "type": "quantitative", "scale": {"domain": [10, 500], "reverse": true}, "axis": null},
                "order": {"field": "ord", "type": "quantitative"}
              }
            },
            {
              "data": {"name": "casts"},
              "mark": {"type": "rule", "color": "#000000", "strokeWidth": 4},
              "encoding": {
                "x": {"field": "km", "type": "quantitative", "scale": {"domain": [0, 55.06]}, "axis": null},
                "y": {"field": "bottom", "type": "quantitative", "scale": {"domain": [10, 500], "reverse": true}, "axis": null},
                "y2": {"datum": 10}
              }
            },
            {
              "data": {"name": "places"},
              "transform": [{"filter": "datum.name === 'Marimeli'"}],
              "mark": {"type": "text", "angle": -67, "align": "center", "baseline": "middle", "fontSize": 28, "fontWeight": "bold", "color": "#000000"},
              "encoding": {
                "text": {"field": "name", "type": "nominal"},
                "x": {"field": "km", "type": "quantitative", "scale": {"domain": [0, 55.06]}, "axis": null},
                "y": {"field": "depth", "type": "quantitative", "scale": {"domain": [10, 500], "reverse": true}, "axis": null}
              }
            },
            {
              "data": {"name": "places"},
              "transform": [{"filter": "datum.name === 'Puelo'"}],
              "mark": {"type": "text", "angle": -10, "align": "center", "baseline": "middle", "fontSize": 27, "fontWeight": "bold", "color": "#000000"},
              "encoding": {
                "text": {"field": "name", "type": "nominal"},
                "x": {"field": "km", "type": "quantitative", "scale": {"domain": [0, 55.06]}, "axis": null},
                "y": {"field": "depth", "type": "quantitative", "scale": {"domain": [10, 500], "reverse": true}, "axis": null}
              }
            },
            {
              "data": {"name": "places"},
              "transform": [{"filter": "datum.name === 'Cochamo'"}],
              "mark": {"type": "text", "angle": -57, "align": "center", "baseline": "middle", "fontSize": 27, "fontWeight": "bold", "color": "#000000"},
              "encoding": {
                "text": {"field": "name", "type": "nominal"},
                "x": {"field": "km", "type": "quantitative", "scale": {"domain": [0, 55.06]}, "axis": null},
                "y": {"field": "depth", "type": "quantitative", "scale": {"domain": [10, 500], "reverse": true}, "axis": null}
              }
            },
            {
              "data": {"name": "regions"},
              "mark": {"type": "text", "align": "center", "baseline": "middle", "font": "Liberation Serif", "fontSize": 56, "fontWeight": "bold", "color": "#000000"},
              "encoding": {
                "text": {"field": "label", "type": "nominal"},
                "x": {"field": "km", "type": "quantitative", "scale": {"domain": [0, 55.06]}, "axis": {"orient": "bottom", "values": [0, 10, 20, 30, 40, 50], "tickSize": -10, "labelPadding": 24, "title": "Distance from the mouth [km]", "titlePadding": 12}},
                "y": {"field": "depth", "type": "quantitative", "scale": {"domain": [10, 500], "reverse": true}, "axis": {"orient": "right", "values": [50, 150, 250, 350, 450], "tickSize": -10, "labels": false, "title": null}}
              }
            }
          ],
          "resolve": {"axis": {"x": "independent", "y": "independent"}}
        }
      ],
      "spacing": 10, "bounds": "flush"
    }
  ],
  "spacing": 27
}
